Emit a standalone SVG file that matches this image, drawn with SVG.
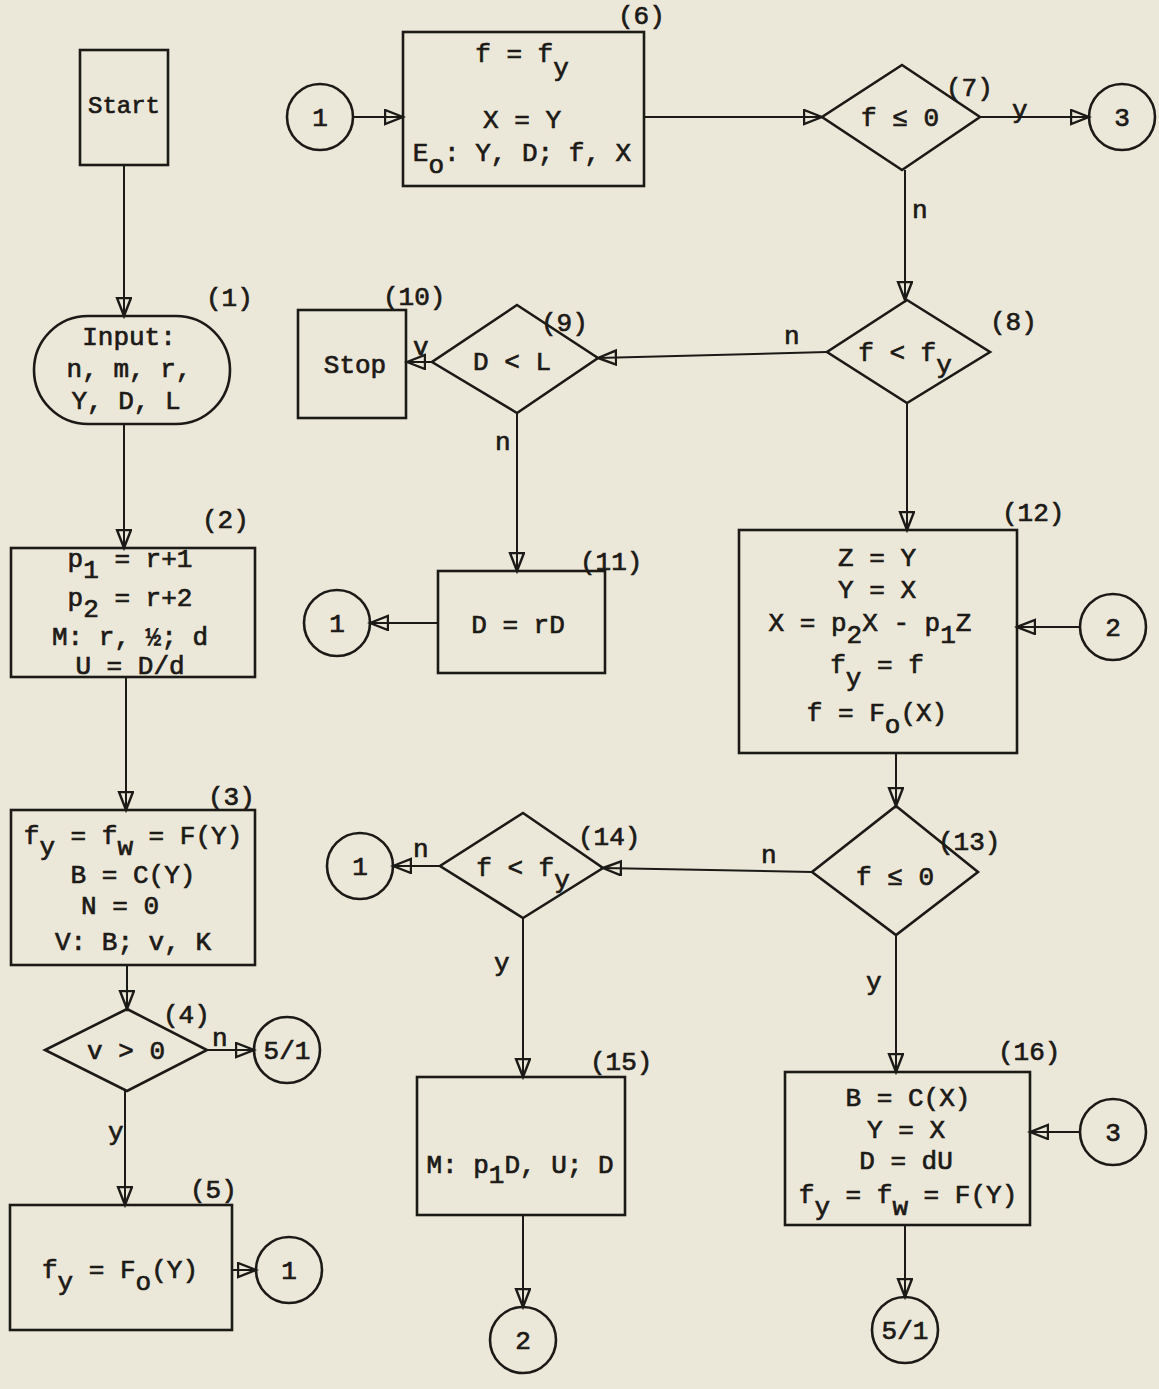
<svg xmlns="http://www.w3.org/2000/svg" width="1159" height="1389" viewBox="0 0 1159 1389">
<defs>
<style>
.bg{fill:#ece8d9}
.s{fill:none;stroke:#1c1a17;stroke-width:2.6}
.c{stroke:#1c1a17;stroke-width:2;fill:none}
text{font-family:"Liberation Mono","DejaVu Sans Mono",monospace;font-size:26px;fill:#1c1a17;white-space:pre;stroke:#1c1a17;stroke-width:0.7}
.m{text-anchor:middle}
</style>
<marker id="ah" markerUnits="userSpaceOnUse" markerWidth="22" markerHeight="18" refX="19" refY="8" orient="auto" viewBox="0 0 22 18">
<path d="M1,1 L19,8 L1,15 Z" fill="none" stroke="#1c1a17" stroke-width="2.4" stroke-linejoin="miter"/>
</marker>
</defs>
<rect class="bg" x="0" y="0" width="1159" height="1389"/>

<g id="connectors">
<line class="c" x1="124" y1="165" x2="124" y2="316" marker-end="url(#ah)"/>
<line class="c" x1="124" y1="424" x2="124" y2="548" marker-end="url(#ah)"/>
<line class="c" x1="126" y1="677" x2="126" y2="810" marker-end="url(#ah)"/>
<line class="c" x1="127" y1="965" x2="127" y2="1009" marker-end="url(#ah)"/>
<line class="c" x1="207" y1="1050" x2="254" y2="1050" marker-end="url(#ah)"/>
<line class="c" x1="125" y1="1091" x2="125" y2="1205" marker-end="url(#ah)"/>
<line class="c" x1="232" y1="1270" x2="256" y2="1270" marker-end="url(#ah)"/>
<line class="c" x1="353" y1="117" x2="403" y2="117" marker-end="url(#ah)"/>
<line class="c" x1="644" y1="117" x2="822" y2="117" marker-end="url(#ah)"/>
<line class="c" x1="980" y1="117" x2="1089" y2="117" marker-end="url(#ah)"/>
<line class="c" x1="905" y1="170" x2="905" y2="300" marker-end="url(#ah)"/>
<line class="c" x1="827" y1="352" x2="598" y2="358" marker-end="url(#ah)"/>
<line class="c" x1="432" y1="362" x2="407" y2="362" marker-end="url(#ah)"/>
<line class="c" x1="517" y1="413" x2="517" y2="571" marker-end="url(#ah)"/>
<line class="c" x1="438" y1="623" x2="370" y2="623" marker-end="url(#ah)"/>
<line class="c" x1="907" y1="403" x2="907" y2="530" marker-end="url(#ah)"/>
<line class="c" x1="1080" y1="627" x2="1017" y2="627" marker-end="url(#ah)"/>
<line class="c" x1="896" y1="753" x2="896" y2="806" marker-end="url(#ah)"/>
<line class="c" x1="812" y1="872" x2="603" y2="868" marker-end="url(#ah)"/>
<line class="c" x1="440" y1="866" x2="393" y2="866" marker-end="url(#ah)"/>
<line class="c" x1="523" y1="918" x2="523" y2="1077" marker-end="url(#ah)"/>
<line class="c" x1="523" y1="1215" x2="523" y2="1307" marker-end="url(#ah)"/>
<line class="c" x1="896" y1="935" x2="896" y2="1072" marker-end="url(#ah)"/>
<line class="c" x1="1080" y1="1132" x2="1030" y2="1132" marker-end="url(#ah)"/>
<line class="c" x1="905" y1="1225" x2="905" y2="1297" marker-end="url(#ah)"/>
<text x="212" y="1046">n</text>
<text x="108" y="1140">y</text>
<text x="1012" y="118">y</text>
<text x="912" y="218">n</text>
<text x="784" y="344">n</text>
<text x="413" y="355">v</text>
<text x="495" y="450">n</text>
<text x="761" y="863">n</text>
<text x="413" y="857">n</text>
<text x="494" y="971">y</text>
<text x="866" y="990">y</text>
</g>

<g id="start">
<rect class="s" x="80" y="50" width="88" height="115"/>
<text class="m" x="124" y="113" style="font-size:24px">Start</text>
</g>

<g id="n1">
<rect class="s" x="34" y="316" width="196" height="108" rx="54" ry="54"/>
<text x="206" y="306">(1)</text>
<text class="m" x="129" y="345">Input:</text>
<text class="m" x="129" y="377">n, m, r,</text>
<text class="m" x="126" y="409">Y, D, L</text>
</g>

<g id="n2">
<rect class="s" x="11" y="548" width="244" height="129"/>
<text x="202" y="528">(2)</text>
<text class="m" x="130" y="567">p<tspan dy="11">1</tspan><tspan dy="-11"> = r+1</tspan></text>
<text class="m" x="130" y="606">p<tspan dy="11">2</tspan><tspan dy="-11"> = r+2</tspan></text>
<text class="m" x="130" y="645">M: r, ½; d</text>
<text class="m" x="130" y="674">U = D/d</text>
</g>

<g id="n3">
<rect class="s" x="11" y="810" width="244" height="155"/>
<text x="208" y="805">(3)</text>
<text class="m" x="133" y="844">f<tspan dy="11">y</tspan><tspan dy="-11"> = f</tspan><tspan dy="11">w</tspan><tspan dy="-11"> = F(Y)</tspan></text>
<text class="m" x="133" y="883">B = C(Y)</text>
<text class="m" x="120" y="914">N = 0</text>
<text class="m" x="133" y="950">V: B; v, K</text>
</g>

<g id="n4">
<polygon class="s" points="127,1009 207,1050 127,1091 45,1050"/>
<text x="163" y="1023">(4)</text>
<text class="m" x="126" y="1059">v &gt; 0</text>
</g>

<g id="c51a">
<circle class="s" cx="287" cy="1050" r="33"/>
<text class="m" x="287" y="1059">5/1</text>
</g>

<g id="n5">
<rect class="s" x="10" y="1205" width="222" height="125"/>
<text x="190" y="1198">(5)</text>
<text class="m" x="120" y="1278">f<tspan dy="12">y</tspan><tspan dy="-12"> = F</tspan><tspan dy="12">o</tspan><tspan dy="-12">(Y)</tspan></text>
</g>

<g id="c1a">
<circle class="s" cx="289" cy="1270" r="33"/>
<text class="m" x="289" y="1279">1</text>
</g>

<g id="c1b">
<circle class="s" cx="320" cy="117" r="33"/>
<text class="m" x="320" y="126">1</text>
</g>

<g id="n6">
<rect class="s" x="403" y="32" width="241" height="154"/>
<text x="618" y="24">(6)</text>
<text class="m" x="522" y="62">f = f<tspan dy="14">y</tspan></text>
<text class="m" x="522" y="128">X = Y</text>
<text class="m" x="522" y="161">E<tspan dy="12">o</tspan><tspan dy="-12">: Y, D; f, X</tspan></text>
</g>

<g id="n7">
<polygon class="s" points="902,65 980,117 902,170 822,117"/>
<text x="946" y="96">(7)</text>
<text class="m" x="900" y="126">f ≤ 0</text>
</g>

<g id="c3a">
<circle class="s" cx="1122" cy="117" r="33"/>
<text class="m" x="1122" y="126">3</text>
</g>

<g id="n8">
<polygon class="s" points="907,300 990,352 907,403 827,352"/>
<text x="990" y="330">(8)</text>
<text class="m" x="905" y="361">f &lt; f<tspan dy="12">y</tspan></text>
</g>

<g id="n9">
<polygon class="s" points="517,305 598,358 517,413 432,362"/>
<text x="541" y="331">(9)</text>
<text class="m" x="512" y="370">D &lt; L</text>
</g>

<g id="n10">
<rect class="s" x="298" y="310" width="108" height="108"/>
<text x="383" y="305">(10)</text>
<text class="m" x="355" y="373">Stop</text>
</g>

<g id="n11">
<rect class="s" x="438" y="571" width="167" height="102"/>
<text x="580" y="570">(11)</text>
<text class="m" x="518" y="633">D = rD</text>
</g>

<g id="c1c">
<circle class="s" cx="337" cy="623" r="33"/>
<text class="m" x="337" y="632">1</text>
</g>

<g id="n12">
<rect class="s" x="739" y="530" width="278" height="223"/>
<text x="1002" y="521">(12)</text>
<text class="m" x="877" y="566">Z = Y</text>
<text class="m" x="877" y="598">Y = X</text>
<text class="m" x="870" y="631">X = p<tspan dy="12">2</tspan><tspan dy="-12">X - p</tspan><tspan dy="12">1</tspan><tspan dy="-12">Z</tspan></text>
<text class="m" x="877" y="673">f<tspan dy="13">y</tspan><tspan dy="-13"> = f</tspan></text>
<text class="m" x="877" y="721">f = F<tspan dy="12">o</tspan><tspan dy="-12">(X)</tspan></text>
</g>

<g id="c2a">
<circle class="s" cx="1113" cy="627" r="33"/>
<text class="m" x="1113" y="636">2</text>
</g>

<g id="n13">
<polygon class="s" points="896,806 978,872 896,935 812,872"/>
<text x="938" y="850">(13)</text>
<text class="m" x="895" y="885">f ≤ 0</text>
</g>

<g id="n14">
<polygon class="s" points="523,813 603,868 523,918 440,866"/>
<text x="578" y="845">(14)</text>
<text class="m" x="523" y="876">f &lt; f<tspan dy="12">y</tspan></text>
</g>

<g id="c1d">
<circle class="s" cx="360" cy="866" r="33"/>
<text class="m" x="360" y="875">1</text>
</g>

<g id="n15">
<rect class="s" x="417" y="1077" width="208" height="138"/>
<text x="590" y="1070">(15)</text>
<text class="m" x="520" y="1173">M: p<tspan dy="10">1</tspan><tspan dy="-10">D, U; D</tspan></text>
</g>

<g id="c2b">
<circle class="s" cx="523" cy="1340" r="33"/>
<text class="m" x="523" y="1349">2</text>
</g>

<g id="n16">
<rect class="s" x="785" y="1072" width="245" height="153"/>
<text x="998" y="1060">(16)</text>
<text class="m" x="908" y="1106">B = C(X)</text>
<text class="m" x="906" y="1138">Y = X</text>
<text class="m" x="906" y="1169">D = dU</text>
<text class="m" x="908" y="1203">f<tspan dy="12">y</tspan><tspan dy="-12"> = f</tspan><tspan dy="12">w</tspan><tspan dy="-12"> = F(Y)</tspan></text>
</g>

<g id="c3b">
<circle class="s" cx="1113" cy="1132" r="33"/>
<text class="m" x="1113" y="1141">3</text>
</g>

<g id="c51b">
<circle class="s" cx="905" cy="1330" r="33"/>
<text class="m" x="905" y="1339">5/1</text>
</g>
</svg>
